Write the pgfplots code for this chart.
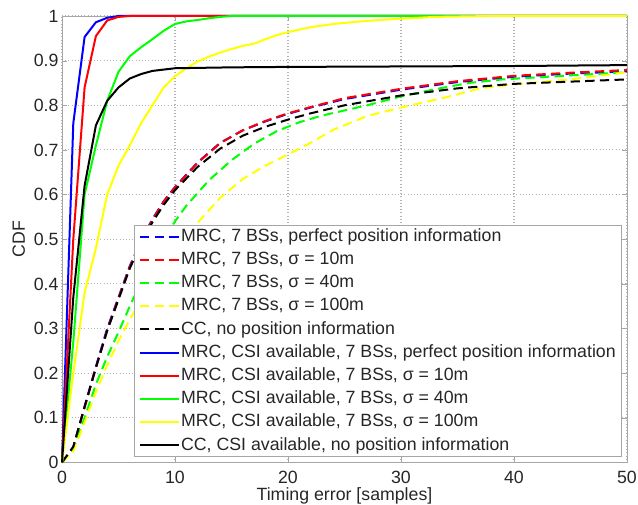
\documentclass[border=0pt]{standalone}
\usepackage{fontspec}
\setmainfont{Liberation Sans}
\usepackage{pgfplots}
\pgfplotsset{compat=1.18}

\definecolor{mblue}{rgb}{0,0,1}
\definecolor{mred}{rgb}{1,0,0}
\definecolor{mgreen}{rgb}{0,1,0}
\definecolor{myellow}{rgb}{1,1,0}
\definecolor{axgray}{gray}{0.65}
\definecolor{txt}{gray}{0.15}

\newcommand{\figfont}{\fontsize{13.3}{16}\selectfont}

\begin{document}
\figfont
\begin{tikzpicture}
\begin{axis}[
  width=423.75pt, height=334.875pt, scale only axis,
  xmin=0, xmax=50, ymin=0, ymax=1,
  xtick={0,10,20,30,40,50},
  ytick={0,0.1,0.2,0.3,0.4,0.5,0.6,0.7,0.8,0.9,1},
  yticklabels={0,0.1,0.2,0.3,0.4,0.5,0.6,0.7,0.8,0.9,1},
  /pgf/number format/assume math mode=true,
  ticklabel style={font=\figfont, text=txt},
  xticklabel style={yshift=-1.5pt},
  yticklabel style={xshift=2pt},
  xlabel={Timing error [samples]},
  ylabel={CDF},
  xlabel style={font=\figfont, text=txt, at={(axis description cs:0.5,-0.084)}, anchor=base},
  ylabel style={font=\figfont, text=txt, at={(axis description cs:-0.0655,0.5)}, anchor=base, rotate=0},
  tick align=inside,
  major tick length=4pt,
  axis line style={axgray},
  tick style={axgray},
  grid=major,
  grid style={dotted, gray!60, line width=0.8pt},
  clip=false,
  every axis plot/.append style={line width=1.5pt, line join=round},
  legend cell align=left,
  legend style={
    at={(rel axis cs:0.9912,0.0123)}, anchor=south east,
    font=\figfont, text=txt,
    draw=axgray, fill=white,
    inner xsep=3.5pt, inner ysep=2pt,
    nodes={inner xsep=1pt, inner ysep=0pt, text height=10pt, text depth=3pt},
    column sep=0pt, row sep=4.4pt,
  },
  legend image code/.code={\draw[#1] plot coordinates {(0pt,0pt) (29pt,0pt)};},
]
\pgfplotsset{dsh/.style={dash pattern=on 7pt off 4pt}}

% CDFs without CSI (dashed)
\addplot[mblue, dsh] coordinates {
(0,0)(1,0.035)(2,0.125)(3,0.215)(4,0.3)(5,0.37)(6,0.44)(7,0.497)(8,0.545)(9,0.585)(10,0.617)(12,0.672)(14,0.716)(16,0.744)(18,0.764)(20,0.781)(22,0.795)(25,0.814)(30,0.835)(35,0.852)(40,0.864)(45,0.871)(50,0.876)};
\addlegendentry{MRC, 7 BSs, perfect position information}
\addplot[mred, dsh] coordinates {
(0,0)(1,0.034)(2,0.123)(3,0.212)(4,0.297)(5,0.368)(6,0.438)(7,0.495)(8,0.543)(9,0.584)(10,0.616)(12,0.671)(14,0.715)(16,0.744)(18,0.765)(20,0.782)(22,0.796)(25,0.816)(30,0.837)(35,0.854)(40,0.866)(45,0.873)(50,0.879)};
\addlegendentry{MRC, 7 BSs, σ = 10m}
\addplot[mgreen, dsh] coordinates {
(0,0)(1,0.03)(2,0.1)(3,0.175)(4,0.237)(5,0.292)(6,0.35)(7,0.405)(8,0.455)(9,0.5)(10,0.54)(11,0.575)(13,0.632)(15,0.677)(17,0.714)(19,0.742)(21,0.762)(23,0.777)(27,0.8)(30,0.82)(33,0.836)(36,0.85)(39,0.858)(45,0.867)(50,0.874)};
\addlegendentry{MRC, 7 BSs, σ = 40m}
\addplot[myellow, dsh] coordinates {
(0,0)(1,0.025)(2,0.09)(3,0.158)(4,0.218)(5,0.272)(6,0.32)(7,0.365)(8,0.408)(9,0.447)(10,0.48)(11,0.51)(12,0.537)(14,0.593)(16,0.635)(18,0.665)(20,0.69)(22,0.716)(24,0.745)(27,0.776)(30,0.795)(34,0.818)(37,0.838)(40,0.847)(45,0.858)(50,0.874)};
\addlegendentry{MRC, 7 BSs, σ = 100m}
\addplot[black, dsh] coordinates {
(0,0)(1,0.035)(2,0.125)(3,0.212)(4,0.295)(5,0.365)(6,0.435)(7,0.49)(8,0.538)(9,0.577)(10,0.61)(12,0.662)(14,0.703)(16,0.732)(18,0.752)(20,0.768)(22,0.782)(25,0.8)(30,0.822)(35,0.838)(40,0.848)(45,0.853)(50,0.858)};
\addlegendentry{CC, no position information}

% CDFs with CSI available (solid)
\addplot[mblue] coordinates {
(0,0)(1,0.76)(2,0.953)(3,0.986)(4,0.996)(5,1)(50,1)};
\addlegendentry{MRC, CSI available, 7 BSs, perfect position information}
\addplot[mred] coordinates {
(0,0)(1,0.5)(2,0.84)(3,0.955)(4,0.99)(5,0.998)(6,1)(50,1)};
\addlegendentry{MRC, CSI available, 7 BSs, σ = 10m}
\addplot[mgreen] coordinates {
(0,0)(1,0.27)(2,0.6)(3,0.71)(4,0.81)(5,0.875)(6,0.91)(7,0.93)(8,0.948)(9,0.967)(10,0.982)(11,0.988)(12,0.991)(13,0.995)(14,0.998)(15,1)(50,1)};
\addlegendentry{MRC, CSI available, 7 BSs, σ = 40m}
\addplot[myellow] coordinates {
(0,0)(1,0.2)(2,0.38)(3,0.48)(4,0.6)(5,0.665)(6,0.71)(7,0.76)(8,0.8)(9,0.84)(10,0.865)(11,0.883)(12,0.898)(13,0.909)(14,0.918)(15,0.926)(16,0.933)(17,0.938)(18,0.948)(19,0.957)(20,0.964)(22,0.975)(24,0.982)(26,0.987)(28,0.991)(30,0.994)(33,0.998)(38,1)(50,1)};
\addlegendentry{MRC, CSI available, 7 BSs, σ = 100m}
\addplot[black] coordinates {
(0,0)(1,0.37)(2,0.62)(3,0.755)(4,0.81)(5,0.84)(6,0.86)(7,0.87)(8,0.877)(9,0.88)(10,0.883)(15,0.885)(20,0.886)(30,0.887)(40,0.888)(50,0.89)};
\addlegendentry{CC, CSI available, no position information}

\coordinate (sw) at (rel axis cs:0,0);
\coordinate (ne) at (rel axis cs:1,1);
\end{axis}
% page frame: room for tick labels and axis labels around the plot box
\pgfresetboundingbox
\path ([xshift=-46.5pt,yshift=-31.125pt]sw) rectangle ([xshift=8.25pt,yshift=12pt]ne);
\end{tikzpicture}
\end{document}
